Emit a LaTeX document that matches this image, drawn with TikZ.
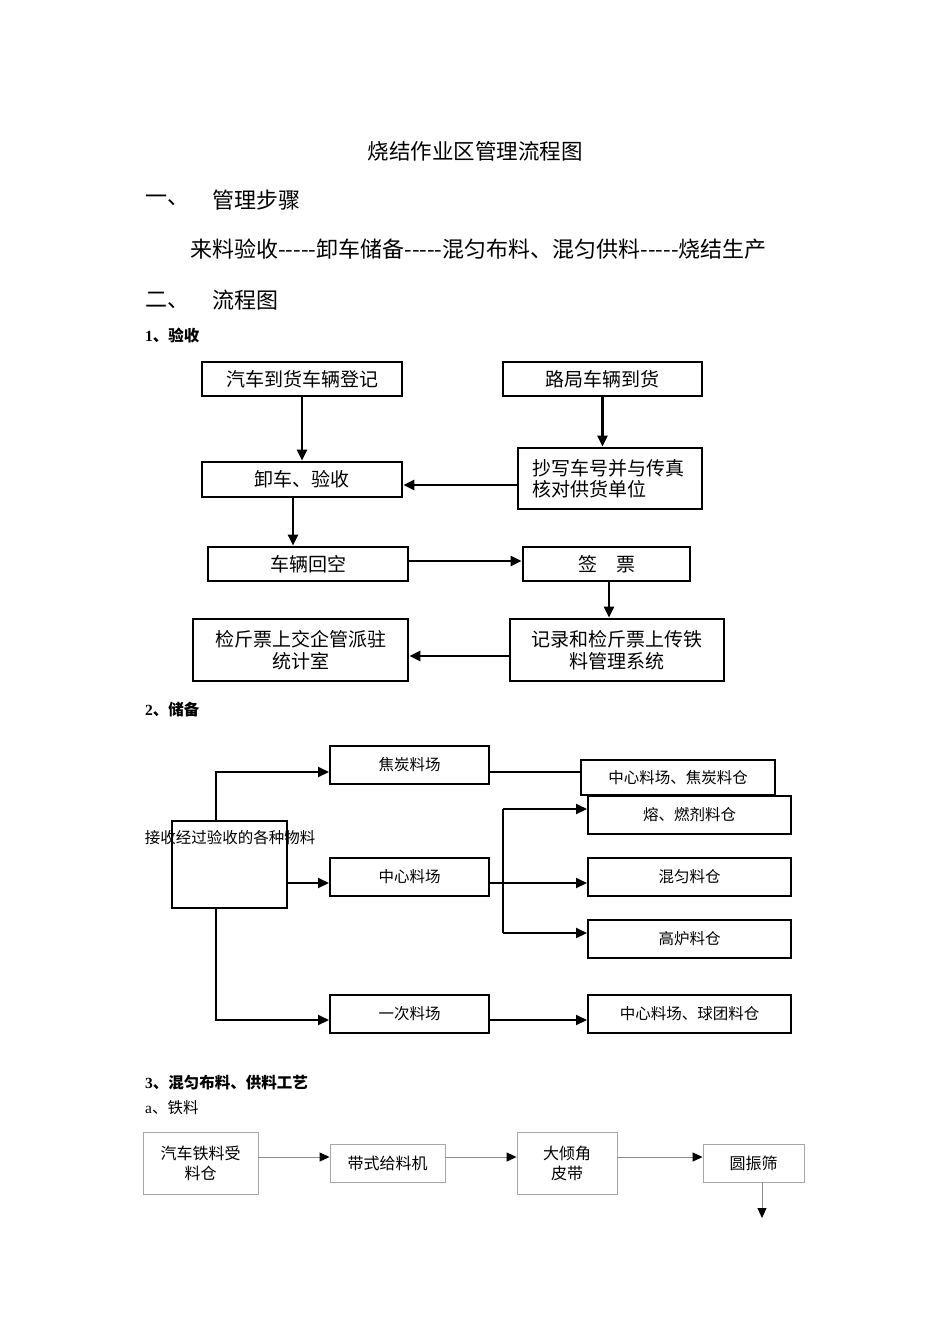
\documentclass[tikz,border=0pt]{standalone}
\usepackage{fontspec}
\setmainfont{Noto Sans CJK SC}
\newfontfamily\lat{Liberation Serif}
\usetikzlibrary{arrows.meta}
\newcommand{\fivedash}{-{}-{}-{}-{}-}
\begin{document}
\begin{tikzpicture}[x=1pt,y=-1pt,
  hfont/.style={font=\fontsize{22}{24}\selectfont},
  secfont/.style={font=\fontsize{15.5}{18}\selectfont\bfseries},
  boxA/.style={draw, line width=2.8pt, inner sep=0pt, align=center, font=\fontsize{19}{21.5}\selectfont},
  boxB/.style={draw, line width=2pt, inner sep=0pt, align=center, font=\fontsize{15.5}{18}\selectfont},
  boxC/.style={draw=black!35, line width=0.9pt, inner sep=0pt, align=center, font=\fontsize{16}{20}\selectfont},
  arrA/.style={line width=2.4pt, -{Triangle[length=11pt,width=10pt]}},
  arrB/.style={line width=2pt, -{Triangle[length=11pt,width=10pt]}},
  lineB/.style={line width=2pt},
  arrC/.style={draw=black!45, line width=0.9pt, -{Triangle[length=10pt,width=9pt,color=black]}}
]
\useasboundingbox (0,0) rectangle (950,1344);

% headings
\node[font=\fontsize{21.5}{24}\selectfont, inner sep=0pt] (title) at (475,151) {烧结作业区管理流程图};
\node[hfont, anchor=west, inner sep=0pt] (h1n) at (145,200) {一、};
\node[hfont, anchor=west, inner sep=0pt] (h1) at (212,200) {管理步骤};
\node[hfont, anchor=west, inner sep=0pt] (steps) at (190,249) {来料验收\fivedash 卸车储备\fivedash 混匀布料、混匀供料\fivedash 烧结生产};
\node[hfont, anchor=west, inner sep=0pt] (h2n) at (145,300) {二、};
\node[hfont, anchor=west, inner sep=0pt] (h2) at (212,300) {流程图};

\node[secfont, anchor=west, inner sep=0pt] (s1) at (145,336) {{\lat\bfseries 1}、验收};
\node[secfont, anchor=west, inner sep=0pt] (s2) at (145,710) {{\lat\bfseries 2}、储备};
\node[secfont, anchor=west, inner sep=0pt] (s3) at (145,1083) {{\lat\bfseries 3}、混匀布料、供料工艺};
\node[font=\fontsize{15.5}{18}\selectfont, anchor=west, inner sep=0pt] (s3a) at (145,1108) {{\lat a}、铁料};

% section 1
\node[boxA, minimum width=200pt, minimum height=34pt] (a1) at (302,379) {汽车到货车辆登记};
\node[boxA, minimum width=199pt, minimum height=34pt] (a2) at (602.5,379) {路局车辆到货};
\node[boxA, minimum width=200pt, minimum height=35pt] (a3) at (302,479.5) {卸车、验收};
\node[boxA, minimum height=61pt, text width=156pt, inner xsep=14pt, align=left] (a4) at (610,478.5) {抄写车号并与传真\\核对供货单位};
\node[boxA, minimum width=200pt, minimum height=34pt] (a5) at (308,564) {车辆回空};
\node[boxA, minimum width=167pt, minimum height=34pt] (a6) at (606.5,564) {签\hspace{1em}票};
\node[boxA, minimum width=215pt, minimum height=62pt] (a7) at (300.5,650) {检斤票上交企管派驻\\统计室};
\node[boxA, minimum width=214pt, minimum height=62pt] (a8) at (617,650) {记录和检斤票上传铁\\料管理系统};

\coordinate (p1) at (293,0);
\coordinate (p2) at (0,485);
\coordinate (p3) at (0,561);
\coordinate (p4) at (609,0);
\coordinate (p5) at (0,656);
\draw[arrA] (a1.south) -- (a3.north);
\draw[arrA] (a2.south) -- (a2.south |- a4.north);
\draw[arrA] (a4.west |- p2) -- (a3.east |- p2);
\draw[arrA] (a3.south -| p1) -- (a5.north -| p1);
\draw[arrA] (a5.east |- p3) -- (a6.west |- p3);
\draw[arrA] (a6.south -| p4) -- (a8.north -| p4);
\draw[arrA] (a8.west |- p5) -- (a7.east |- p5);

% section 2
\node[boxB, minimum width=115pt, minimum height=87pt] (b0) at (229.5,864.5) {};
\node[font=\fontsize{15.5}{18}\selectfont, inner sep=0pt] (b0t) at (230,838) {接收经过验收的各种物料};
\node[boxB, minimum width=159pt, minimum height=38pt] (b1) at (409.5,765) {焦炭料场};
\node[boxB, minimum width=159pt, minimum height=38pt] (b2) at (409.5,877) {中心料场};
\node[boxB, minimum width=159pt, minimum height=38pt] (b3) at (409.5,1014) {一次料场};
\node[boxB, minimum width=194pt, minimum height=35pt] (c1) at (678,777.5) {中心料场、焦炭料仓};
\node[boxB, minimum width=203pt, minimum height=38pt] (c2) at (689.5,815) {熔、燃剂料仓};
\node[boxB, minimum width=203pt, minimum height=38pt] (c3) at (689.5,877) {混匀料仓};
\node[boxB, minimum width=203pt, minimum height=38pt] (c4) at (689.5,939) {高炉料仓};
\node[boxB, minimum width=203pt, minimum height=38pt] (c5) at (689.5,1014) {中心料场、球团料仓};

\coordinate (q1) at (216,772);
\coordinate (q2) at (0,883);
\coordinate (q3) at (216,1020);
\coordinate (q4) at (503,809);
\coordinate (q5) at (503,933);
\draw[arrB] (b0.north -| q1) -- (q1) -- (b1.west |- q1);
\draw[arrB] (b0.east |- q2) -- (b2.west |- q2);
\draw[arrB] (b0.south -| q3) -- (q3) -- (b3.west |- q3);
\draw[lineB] (b1.east |- q1) -- (c1.west |- q1);
\draw[arrB] (b2.east |- q2) -- (c3.west |- q2);
\draw[lineB] (q4) -- (q5);
\draw[arrB] (q4) -- (c2.west |- q4);
\draw[arrB] (q5) -- (c4.west |- q5);
\draw[arrB] (b3.east |- q3) -- (c5.west |- q3);

% section 3
\node[boxC, minimum width=115pt, minimum height=62pt] (d1) at (200.5,1163) {汽车铁料受\\料仓};
\node[boxC, minimum width=115pt, minimum height=38pt] (d2) at (387.5,1163) {带式给料机};
\node[boxC, minimum width=100pt, minimum height=62pt] (d3) at (567,1163) {大倾角\\皮带};
\node[boxC, minimum width=101pt, minimum height=38pt] (d4) at (753.5,1163) {圆振筛};
\coordinate (r1) at (0,1157);
\coordinate (r2) at (762,1218);
\draw[arrC] (d1.east |- r1) -- (d2.west |- r1);
\draw[arrC] (d2.east |- r1) -- (d3.west |- r1);
\draw[arrC] (d3.east |- r1) -- (d4.west |- r1);
\draw[arrC] (d4.south -| r2) -- (r2);
\end{tikzpicture}
\end{document}
